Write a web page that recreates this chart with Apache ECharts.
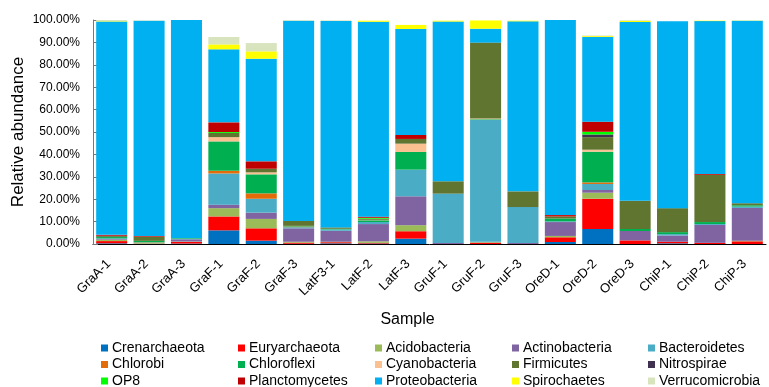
<!DOCTYPE html>
<html lang="en">
<head>
    <meta charset="UTF-8">
    <title>Relative abundance</title>
    <script type="text/javascript" src="https://cdn.jsdelivr.net/npm/echarts@6/dist/echarts.min.js"></script>
</head>
<body style="margin:0">
<div id="main" style="width: 769px; height:387px;"></div>

<script>
    var samples = ['GraA-1', 'GraA-2', 'GraA-3', 'GraF-1', 'GraF-2', 'GraF-3', 'LatF3-1', 'LatF-2', 'LatF-3',
        'GruF-1', 'GruF-2', 'GruF-3', 'OreD-1', 'OreD-2', 'OreD-3', 'ChiP-1', 'ChiP-2', 'ChiP-3'];

    var crenarchaeota   = [0.3, 0.1, 0.2, 6.1, 1.5, 0.1, 0.3, 0.2, 2.4, 0, 0, 0, 0.9, 6.7, 0, 0.3, 0, 0];
    var euryarchaeota   = [1.0, 0.1, 0.7, 6.2, 5.5, 0.5, 0.5, 0.3, 3.3, 0, 0.5, 0, 2.1, 13.5, 1.6, 0.7, 0.5, 1.2];
    var acidobacteria   = [0.6, 0.5, 0.2, 3.7, 4.2, 0.4, 0.2, 0.7, 2.7, 0, 0.3, 0, 0.6, 2.7, 0, 0, 0, 0.3];
    var actinobacteria  = [0.3, 0.1, 1.0, 1.5, 2.8, 6.0, 4.9, 7.7, 12.9, 0.5, 0.2, 0.5, 6.2, 1.2, 4.2, 2.8, 8.0, 14.6];
    var bacteroidetes   = [0.3, 0, 0.3, 14.0, 6.2, 0.5, 0.6, 0.9, 11.9, 22.0, 54.4, 16.0, 0.3, 2.7, 0, 0.6, 0.4, 0.6];
    var chlorobi        = [0, 0, 0, 1.2, 2.4, 0.3, 0, 0, 0, 0, 0, 0, 0, 0.7, 0, 0, 0, 0];
    var chloroflexi     = [0.6, 0.6, 0.3, 13.1, 8.5, 0.3, 0.3, 0.8, 7.9, 0, 0.3, 0, 1.3, 13.7, 0.9, 0.9, 0.9, 0.6];
    var cyanobacteria   = [0, 0, 0, 1.9, 0.9, 0, 0, 0.2, 3.7, 0, 0.3, 0, 0, 0.9, 0, 0, 0, 0];
    var firmicutes      = [0.4, 1.9, 0, 1.9, 1.6, 2.2, 0.6, 0.5, 2.1, 5.5, 33.9, 7.0, 0.9, 5.6, 12.6, 10.7, 21.1, 0.9];
    var nitrospirae     = [0.2, 0, 0, 0, 0, 0, 0, 0, 0, 0, 0, 0, 0, 1.2, 0, 0, 0, 0];
    var op8             = [0, 0, 0, 0.4, 0, 0, 0, 0.4, 0, 0, 0, 0, 0, 1.2, 0, 0, 0, 0];
    var planctomycetes  = [0.4, 0.3, 0, 4.3, 3.3, 0, 0, 0.5, 1.8, 0, 0, 0, 0.6, 4.5, 0, 0, 0.4, 0];
    var proteobacteria  = [95.2, 96.1, 97.3, 32.6, 45.8, 89.4, 92.2, 87.0, 47.3, 71.3, 6.2, 75.9, 87.1, 37.8, 79.8, 83.4, 68.2, 81.5];
    var spirochaetes    = [0.2, 0, 0, 2.2, 3.3, 0, 0, 0.5, 1.8, 0.4, 3.7, 0.3, 0, 0.4, 0.5, 0, 0.2, 0.1];
    var verrucomicrobia = [0.5, 0.2, 0, 3.3, 3.7, 0.3, 0.3, 0, 0, 0, 0, 0, 0, 0.3, 0.3, 0, 0, 0];

    var phyla = [
        ['Crenarchaeota', crenarchaeota, '#0070C0'],
        ['Euryarchaeota', euryarchaeota, '#FF0000'],
        ['Acidobacteria', acidobacteria, '#9BBB59'],
        ['Actinobacteria', actinobacteria, '#8064A2'],
        ['Bacteroidetes', bacteroidetes, '#4BACC6'],
        ['Chlorobi', chlorobi, '#E36C09'],
        ['Chloroflexi', chloroflexi, '#00B050'],
        ['Cyanobacteria', cyanobacteria, '#FAC090'],
        ['Firmicutes', firmicutes, '#5F7530'],
        ['Nitrospirae', nitrospirae, '#403151'],
        ['OP8', op8, '#00FF00'],
        ['Planctomycetes', planctomycetes, '#C00000'],
        ['Proteobacteria', proteobacteria, '#00B0F0'],
        ['Spirochaetes', spirochaetes, '#FFFF00'],
        ['Verrucomicrobia', verrucomicrobia, '#D7E4BD']
    ];

    var font = 'Liberation Sans, Arial, sans-serif';

    var series = phyla.map(function (p) {
        return {
            name: p[0],
            type: 'bar',
            stack: 'total',
            barCategoryGap: '17%',
            data: p[1],
            itemStyle: {color: p[2]}
        };
    });

    // legend: 5 columns x 3 rows like the Excel layout
    var colX = [101, 238, 375, 512, 648];
    var legends = colX.map(function (x, c) {
        var names = [];
        for (var r = 0; r < 3; r++) {
            names.push(phyla[r * 5 + c][0]);
        }
        return {
            orient: 'vertical',
            left: x,
            top: 341,
            height: 60,
            padding: 0,
            itemWidth: 7,
            itemHeight: 7,
            itemGap: 2.5,
            icon: 'rect',
            data: names,
            textStyle: {fontFamily: font, fontSize: 14, color: '#000', lineHeight: 14, padding: [0, 0, 0, -1]}
        };
    });

    var myChart = echarts.init(document.getElementById('main'));

    var option = {
        animation: false,
        legend: legends,
        grid: {
            left: 93,
            right: 3,
            top: 20,
            bottom: 143,
            outerBoundsMode: 'none'
        },
        xAxis: {
            type: 'category',
            data: samples,
            name: 'Sample',
            nameLocation: 'middle',
            nameGap: 68,
            nameMoveOverlap: false,
            nameTextStyle: {fontFamily: font, fontSize: 16, color: '#000', padding: [0, 44, 0, 0]},
            axisLine: {lineStyle: {color: '#000', width: 1}},
            axisTick: {inside: true, length: 4, lineStyle: {color: '#555'}},
            axisLabel: {rotate: 45, fontFamily: font, fontSize: 13, color: '#000', margin: 15, padding: [0, 4, 0, 0]}
        },
        yAxis: {
            type: 'value',
            min: 0,
            max: 100,
            interval: 10,
            name: 'Relative abundance',
            nameLocation: 'middle',
            nameGap: 66,
            nameMoveOverlap: false,
            nameTextStyle: {fontFamily: font, fontSize: 17, color: '#000'},
            axisLine: {show: true, lineStyle: {color: '#777'}},
            axisTick: {show: true, inside: true, length: 5, lineStyle: {color: '#777'}},
            splitLine: {show: false},
            axisLabel: {
                fontFamily: font, fontSize: 12, color: '#000', margin: 13,
                formatter: function (v) { return v.toFixed(2) + '%'; }
            }
        },
        series: series
    };

    myChart.setOption(option);
</script>
</body>
</html>
